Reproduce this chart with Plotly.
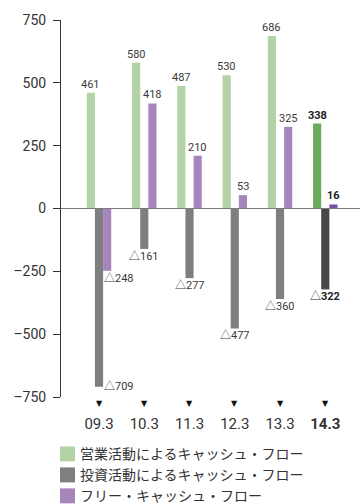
import plotly.graph_objects as go

categories = ["09.3", "10.3", "11.3", "12.3", "13.3", "14.3"]
tick_labels = ["09.3", "10.3", "11.3", "12.3", "13.3", "<b>14.3</b>"]
operating_cf = [461, 580, 487, 530, 686, 338]
investing_cf = [-709, -161, -277, -477, -360, -322]
free_cf = [-248, 418, 210, 53, 325, 16]
y_ticks = [-750, -500, -250, 0, 250, 500, 750]
series_names = ["営業活動によるキャッシュ・フロー", "投資活動によるキャッシュ・フロー", "フリー・キャッシュ・フロー"]

light_colors = ["#b3d3a6", "#7f7f82", "#a685bd"]
dark_colors = ["#68ad5b", "#48484a", "#7a4f9f"]

FONT = "Roboto, 'Noto Sans CJK JP', sans-serif"
LABEL_COLOR = "#3a3a3a"
W, H = 360, 504
ML, MR, MT, MB = 61, 0, 20, 106.5
BARGAP = 0.46
bw = (1 - BARGAP) / 3  # width of one bar in category units

fig = go.Figure()
series = [operating_cf, investing_cf, free_cf]
n = len(categories)
for k, (vals, name) in enumerate(zip(series, series_names)):
    colors = [light_colors[k]] * (n - 1) + [dark_colors[k]]
    fig.add_trace(go.Bar(x=categories, y=vals, name=name, marker=dict(color=colors, line=dict(width=0)),
                         showlegend=False, hoverinfo="skip"))

def fmt(v, bold):
    s = str(abs(v))
    if bold:
        s = f"<b>{s}</b>"
    return s if v >= 0 else "△" + s

annotations = []
for k, vals in enumerate(series):
    for i, v in enumerate(vals):
        bold = i == n - 1
        xc = i + (k - 1) * bw
        a = dict(x=xc, y=v, xref="x", yref="y", text=fmt(v, bold), showarrow=False,
                 font=dict(family=FONT, size=11, color="#222" if bold else LABEL_COLOR))
        if v >= 0:
            a.update(yanchor="bottom", xanchor="center", yshift=0)
        else:
            a.update(yanchor="top", xanchor="center", yshift=1)
        # first period: negative labels shifted right of bars
        if i == 0 and v < 0:
            a.update(x=i + bw / 2, xanchor="left", xshift=-1)
            if k == 1:
                a.update(yanchor="middle", yshift=0)
        annotations.append(a)

# triangles below axis
for i, c in enumerate(categories):
    annotations.append(dict(x=i, y=0, xref="x", yref="paper", text="▼", showarrow=False,
                            yanchor="top", yshift=0, font=dict(size=8, color="#111", family="DejaVu Sans")))

# manual legend
plot_w = W - ML - MR
plot_h = H - MT - MB
def px_x(p):
    return (p - ML) / plot_w
def px_y(p):
    return (H - MB - p) / plot_h

shapes = []
for k, name in enumerate(series_names):
    top = 447 + 21 * k
    shapes.append(dict(type="rect", xref="paper", yref="paper", x0=px_x(60), x1=px_x(75),
                       y0=px_y(top + 15), y1=px_y(top), fillcolor=light_colors[k], line=dict(width=0)))
    annotations.append(dict(x=px_x(78), y=px_y(top + 7.5), xref="paper", yref="paper", text=name,
                            showarrow=False, xanchor="left", yanchor="middle",
                            font=dict(family=FONT, size=14, color="#333")))

# zero line
shapes.append(dict(type="line", xref="paper", yref="y", x0=0, x1=1, y0=0, y1=0,
                   line=dict(color="#7a7a7a", width=1)))

y_text = [("\u2013" if v < 0 else "") + str(abs(v)) for v in y_ticks]

fig.update_layout(
    width=W, height=H, margin=dict(l=ML, r=MR, t=MT, b=MB),
    barmode="group", bargap=BARGAP, bargroupgap=0,
    plot_bgcolor="white", paper_bgcolor="white",
    font=dict(family=FONT, color="#333"),
    xaxis=dict(type="category", range=[-0.84, 5.767], tickmode="array", tickvals=categories,
               ticktext=tick_labels, showline=False, showgrid=False, zeroline=False, ticks="",
               tickfont=dict(size=15, color="#333"), ticklabelstandoff=16),
    yaxis=dict(range=[-750, 750], tickmode="array", tickvals=y_ticks, ticktext=y_text, showgrid=False,
               zeroline=False, showline=True, linecolor="#333", linewidth=1, ticks="outside",
               ticklen=7, tickcolor="#333", tickfont=dict(family="Roboto", size=14, color="#333"),
               ticklabelstandoff=4),
    annotations=annotations, shapes=shapes,
)

fig.write_html("out.html")
